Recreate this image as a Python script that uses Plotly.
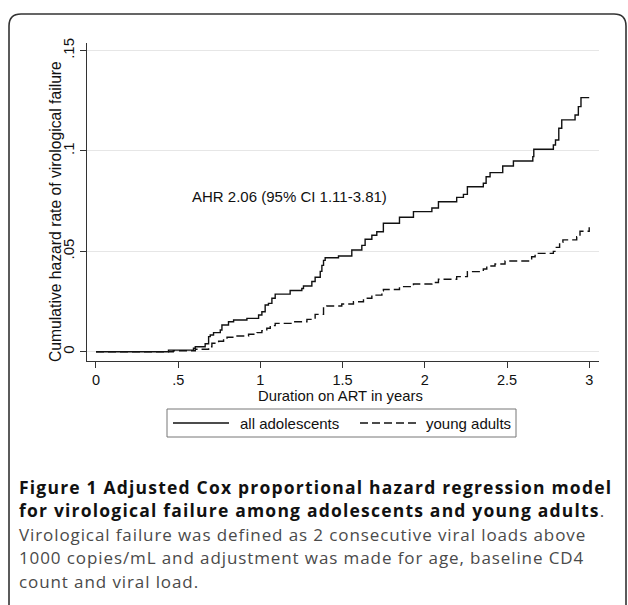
import plotly.graph_objects as go

# Cumulative hazard of virological failure (step function), time in years on ART
adol_years = [0, 0.441, 0.593, 0.604, 0.664, 0.685, 0.695, 0.715, 0.756, 0.766,
              0.806, 0.837, 0.918, 0.989, 1.009, 1.029, 1.049, 1.070, 1.090, 1.181,
              1.252, 1.262, 1.313, 1.333, 1.364, 1.374, 1.384, 1.394, 1.475, 1.556,
              1.617, 1.637, 1.678, 1.708, 1.748, 1.846, 1.931, 2.043, 2.083, 2.194,
              2.235, 2.259, 2.356, 2.373, 2.397, 2.474, 2.539, 2.657, 2.663, 2.782,
              2.795, 2.815, 2.833, 2.914, 2.934, 2.950, 3.0]
adol_hazard = [0, 0.0008, 0.0017, 0.0025, 0.0040, 0.0075, 0.0083, 0.0095, 0.0108, 0.0133,
               0.0149, 0.0158, 0.0166, 0.0183, 0.0199, 0.0233, 0.0241, 0.0266, 0.0287, 0.0305,
               0.0315, 0.0327, 0.0350, 0.0371, 0.0400, 0.0430, 0.0455, 0.0468, 0.0477, 0.0507,
               0.0530, 0.0560, 0.0580, 0.0598, 0.0640, 0.0670, 0.0698, 0.0716, 0.0747, 0.0769,
               0.0784, 0.0822, 0.0839, 0.0872, 0.0892, 0.0925, 0.0950, 0.0972, 0.1009, 0.1030,
               0.1055, 0.1113, 0.1155, 0.1179, 0.1221, 0.1266, 0.1266]

young_years = [0, 0.47, 0.604, 0.685, 0.705, 0.746, 0.776, 0.797, 0.837, 0.928,
               0.979, 1.009, 1.039, 1.060, 1.090, 1.201, 1.283, 1.333, 1.384, 1.404,
               1.495, 1.566, 1.627, 1.678, 1.739, 1.748, 1.846, 1.931, 2.043, 2.083,
               2.194, 2.259, 2.356, 2.377, 2.427, 2.488, 2.650, 2.671, 2.782, 2.800,
               2.820, 2.840, 2.924, 2.944, 3.0]
young_hazard = [0, 0.0005, 0.0012, 0.0025, 0.0042, 0.0052, 0.0062, 0.0072, 0.0078, 0.0087,
                0.0095, 0.0105, 0.0117, 0.0130, 0.0141, 0.0149, 0.0161, 0.0186, 0.0224, 0.0228,
                0.0238, 0.0249, 0.0266, 0.0282, 0.0304, 0.0310, 0.0324, 0.0337, 0.0345, 0.0361,
                0.0374, 0.0399, 0.0412, 0.0427, 0.0437, 0.0452, 0.0473, 0.0490, 0.0500, 0.0520,
                0.0545, 0.0557, 0.0573, 0.0600, 0.0620]

series_names = ["all adolescents", "young adults"]

x_ticks = [0, 0.5, 1, 1.5, 2, 2.5, 3]
x_tick_labels = ["0", ".5", "1", "1.5", "2", "2.5", "3"]
y_ticks = [0, 0.05, 0.1, 0.15]
y_tick_labels = ["0", ".05", ".1", ".15"]

ahr_text = "AHR 2.06 (95% CI 1.11-3.81)"
ahr_pos = (1.178, 0.0772)

BOLD = "<span style='font-size:17.5px;letter-spacing:1.2px;font-weight:bold;color:#111111'>{}</span>"
REG = "<span style='font-size:17px;letter-spacing:0.9px'>{}</span>"
caption = "<br>".join([
    BOLD.format("Figure 1 Adjusted Cox proportional hazard regression model"),
    BOLD.format("for virological failure among adolescents and young adults") + REG.format("."),
    REG.format("Virological failure was defined as 2 consecutive viral loads above"),
    REG.format("1000 copies/mL and adjustment was made for age, baseline CD4"),
    REG.format("count and viral load."),
])

# ---- page geometry (pixels) ----
W, H = 628, 605
L, R, T, B = 87, 599, 43, 361  # plot area


def px(x):
    return (x - L) / (R - L)


def py(y):
    return (B - y) / (B - T)


SANS = "Liberation Sans, Arial, sans-serif"
CAP = "Open Sans, sans-serif"
INK = "#111111"
DASH = "8px,4px"

fig = go.Figure()
fig.add_trace(go.Scatter(x=adol_years, y=adol_hazard, mode="lines", name=series_names[0],
                         line=dict(color=INK, width=1.4, shape="hv"), showlegend=False))
fig.add_trace(go.Scatter(x=young_years, y=young_hazard, mode="lines", name=series_names[1],
                         line=dict(color=INK, width=1.4, shape="hv", dash=DASH), showlegend=False))

shapes = []
# outer panel with rounded top corners
frame = (f"M {px(9)},{py(606)} L {px(9)},{py(26)} Q {px(9)},{py(14)} {px(21)},{py(14)} "
         f"L {px(614)},{py(14)} Q {px(626)},{py(14)} {px(626)},{py(26)} L {px(626)},{py(606)}")
shapes.append(dict(type="path", xref="paper", yref="paper", path=frame,
                   line=dict(color="#333333", width=1.6)))
# legend box and line samples
shapes.append(dict(type="rect", xref="paper", yref="paper",
                   x0=px(167), x1=px(516), y0=py(409), y1=py(437),
                   line=dict(color="#777777", width=1)))
shapes.append(dict(type="line", xref="paper", yref="paper",
                   x0=px(173), x1=px(229), y0=py(423), y1=py(423),
                   line=dict(color=INK, width=1.4)))
shapes.append(dict(type="line", xref="paper", yref="paper",
                   x0=px(360), x1=px(416), y0=py(423), y1=py(423),
                   line=dict(color=INK, width=1.4, dash=DASH)))


def label(x, y, text, xanchor="center", size=15, **kw):
    return dict(x=px(x), y=py(y), xref="paper", yref="paper", text=text,
                xanchor=xanchor, yanchor="middle", showarrow=False,
                font=dict(family=SANS, size=size, color=INK), **kw)


annotations = [
    dict(x=ahr_pos[0], y=ahr_pos[1], xref="x", yref="y", text=ahr_text, showarrow=False,
         xanchor="center", yanchor="middle", font=dict(family=SANS, size=15, color=INK)),
    label(55, 212, "Cumulative hazard rate of virological failure", size=15.7, textangle=-90),
    label(340, 396, "Duration on ART in years", size=14.8),
    label(238, 423, series_names[0], xanchor="left"),
    label(424, 423, series_names[1], xanchor="left"),
    dict(x=px(17), y=py(533.5), xref="paper", yref="paper", text=caption, align="left",
         xanchor="left", yanchor="middle", showarrow=False,
         font=dict(family=CAP, size=18, color="#4a4a4a")),
]

fig.update_layout(
    width=W, height=H,
    margin=dict(l=L, r=W - R, t=T, b=H - B, pad=0),
    paper_bgcolor="white", plot_bgcolor="white",
    shapes=shapes, annotations=annotations,
    xaxis=dict(range=[-0.0547, 3.0596], tickvals=x_ticks, ticktext=x_tick_labels,
               ticks="outside", ticklen=6, tickcolor="#333333", tickwidth=1,
               showline=True, linecolor="#333333", linewidth=1,
               showgrid=False, zeroline=False,
               tickfont=dict(family=SANS, size=14.5, color=INK)),
    yaxis=dict(range=[-0.00463, 0.1538], tickvals=y_ticks, ticktext=y_tick_labels,
               tickangle=-90, ticks="outside", ticklen=6, tickcolor="#333333", tickwidth=1,
               showline=True, linecolor="#333333", linewidth=1,
               showgrid=True, gridcolor="#e6e6e6", gridwidth=1, zeroline=False,
               tickfont=dict(family=SANS, size=15, color=INK)),
)

fig.write_html("out.html")
